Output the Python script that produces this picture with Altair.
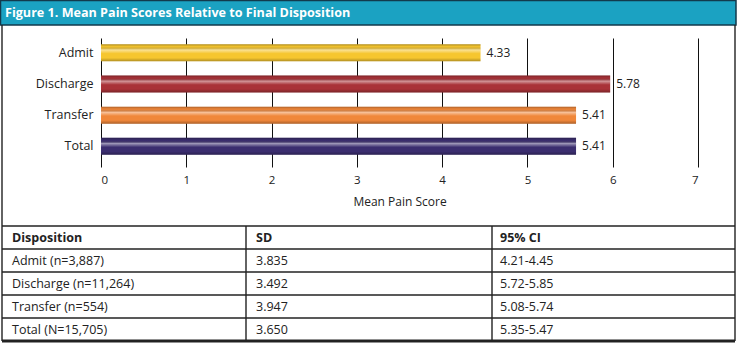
import altair as alt
import pandas as pd

# ---------------- data ----------------
dispositions = ["Admit", "Discharge", "Transfer", "Total"]
bar_lengths = [4.45, 5.97, 5.57, 5.57]          # bar lengths as drawn
score_labels = ["4.33", "5.78", "5.41", "5.41"]  # printed values
bar_colors = ["#f6c62f", "#a93238", "#f0873a", "#3b2e6f"]
x_ticks = [0, 1, 2, 3, 4, 5, 6, 7]

table_header = ["Disposition", "SD", "95% CI"]
table_disposition = ["Admit (n=3,887)", "Discharge (n=11,264)",
                     "Transfer (n=554)", "Total (N=15,705)"]
table_sd = ["3.835", "3.492", "3.947", "3.650"]
table_ci = ["4.21-4.45", "5.72-5.85", "5.08-5.74", "5.35-5.47"]

title_text = "Figure 1. Mean Pain Scores Relative to Final Disposition"

# ---------------- layout constants (pixels) ----------------
PAD_L, PAD_T = 101, 38
W, H = 597, 129
TOTAL_W, TOTAL_H = 738, 344
FONT = "Open Sans"

def px(page_x):
    return page_x - PAD_L

def py(page_y):
    return page_y - PAD_T

TABLE_TOP = 226
ROW_H = 23
COL_LINES = [246, 492]
COL_TEXT = [12, 256, 500]
LEFT_EDGE, RIGHT_EDGE = 2, 735

bars = pd.DataFrame({"disposition": dispositions, "score": bar_lengths,
                     "label": score_labels})

yenc = alt.Y("disposition:N", sort=dispositions, title=None,
             scale=alt.Scale(paddingInner=0.455, paddingOuter=0.295, align=0.34),
             axis=alt.Axis(ticks=False, domain=False, labelPadding=8,
                           labelFont=FONT, labelFontSize=12.5, labelColor="#222"))
xenc = alt.X("score:Q", title="Mean Pain Score",
             scale=alt.Scale(domain=[0, 7], nice=False),
             axis=alt.Axis(values=x_ticks, format="d", grid=True, gridColor="#111",
                           gridWidth=1, gridOpacity=1, ticks=False, domain=False,
                           labelPadding=7, labelFont=FONT, labelFontSize=11.5,
                           labelColor="#222", titleFont=FONT, titleFontSize=12,
                           titleFontWeight="normal", titleColor="#222",
                           titlePadding=11))

base = alt.Chart(bars).mark_bar().encode(
    y=yenc, x=xenc,
    color=alt.Color("disposition:N", scale=alt.Scale(domain=dispositions,
                    range=bar_colors), legend=None))

shine = alt.LinearGradient(
    gradient="linear", x1=0, x2=0, y1=0, y2=1,
    stops=[
        alt.GradientStop(color="rgba(0,0,0,0.28)", offset=0),
        alt.GradientStop(color="rgba(0,0,0,0.0)", offset=0.15),
        alt.GradientStop(color="rgba(255,255,255,0.5)", offset=0.33),
        alt.GradientStop(color="rgba(255,255,255,0.0)", offset=0.55),
        alt.GradientStop(color="rgba(0,0,0,0.0)", offset=0.8),
        alt.GradientStop(color="rgba(0,0,0,0.28)", offset=1),
    ])
gloss = alt.Chart(bars).mark_bar(fill=shine).encode(
    y=alt.Y("disposition:N", sort=dispositions), x="score:Q")

labels = alt.Chart(bars).mark_text(align="left", dx=6, baseline="middle",
                                   font=FONT, fontSize=12, color="#222").encode(
    y=alt.Y("disposition:N", sort=dispositions), x="score:Q", text="label:N")

one = pd.DataFrame({"k": [0]})

# title bar
title_bar = alt.Chart(one).mark_rect(fill="#1ba2c2", stroke="#123a4c",
                                     strokeWidth=1.5).encode(
    x=alt.value(px(0.5)), x2=alt.value(px(736)),
    y=alt.value(py(0.5)), y2=alt.value(py(25)))
title_lbl = alt.Chart(one).mark_text(align="left", baseline="middle",
                                     font=FONT, fontSize=12.6, fontWeight="bold",
                                     color="white").encode(
    x=alt.value(px(5)), y=alt.value(py(13)), text=alt.value(title_text))

# frame and table lines
n_rows = 1 + len(table_disposition)
h_lines = pd.DataFrame({
    "x": [px(LEFT_EDGE)] * n_rows,
    "x2": [px(RIGHT_EDGE)] * n_rows,
    "y": [py(TABLE_TOP + i * ROW_H) for i in range(n_rows)],
})
h_lines["y2"] = h_lines["y"]
v_lines = pd.DataFrame({
    "x": [px(LEFT_EDGE), px(RIGHT_EDGE)] + [px(c) for c in COL_LINES],
    "y": [py(25)] * 2 + [py(TABLE_TOP)] * len(COL_LINES),
    "y2": [py(TABLE_TOP + n_rows * ROW_H)] * (2 + len(COL_LINES)),
})
v_lines["x2"] = v_lines["x"]
lines = pd.concat([h_lines, v_lines], ignore_index=True)
frame = alt.Chart(lines).mark_rule(color="#222", strokeWidth=1.4).encode(
    x=alt.X("x:Q", scale=None), x2="x2:Q",
    y=alt.Y("y:Q", scale=None), y2="y2:Q")
bottom = alt.Chart(one).mark_rule(color="#222", strokeWidth=3).encode(
    x=alt.value(px(LEFT_EDGE)), x2=alt.value(px(RIGHT_EDGE)),
    y=alt.value(py(TABLE_TOP + n_rows * ROW_H)))

# table text
cells = []
columns = [table_disposition, table_sd, table_ci]
for c, head in enumerate(table_header):
    cells.append({"text": head, "bold": True, "px": px(COL_TEXT[c]),
                  "py": py(TABLE_TOP + 0.5 * ROW_H)})
    for r, val in enumerate(columns[c]):
        cells.append({"text": val, "bold": False, "px": px(COL_TEXT[c]),
                      "py": py(TABLE_TOP + (r + 1.5) * ROW_H)})
cells = pd.DataFrame(cells)
tbl_head = alt.Chart(cells).transform_filter("datum.bold").mark_text(
    align="left", baseline="middle", font=FONT, fontSize=12.5,
    fontWeight="bold", color="#222").encode(
    x=alt.X("px:Q", scale=None), y=alt.Y("py:Q", scale=None), text="text:N")
tbl_body = alt.Chart(cells).transform_filter("!datum.bold").mark_text(
    align="left", baseline="middle", font=FONT, fontSize=12.5,
    color="#222").encode(
    x=alt.X("px:Q", scale=None), y=alt.Y("py:Q", scale=None), text="text:N")

chart = alt.layer(base, gloss, labels, title_bar, title_lbl, frame, bottom,
                  tbl_head, tbl_body).properties(
    width=W, height=H,
    autosize=alt.AutoSizeParams(type="none"),
    padding={"left": PAD_L, "top": PAD_T,
             "right": TOTAL_W - PAD_L - W, "bottom": TOTAL_H - PAD_T - H},
    background="white",
).configure_view(stroke=None)

chart.save("out.html", embed_options={"renderer": "svg", "actions": False})
